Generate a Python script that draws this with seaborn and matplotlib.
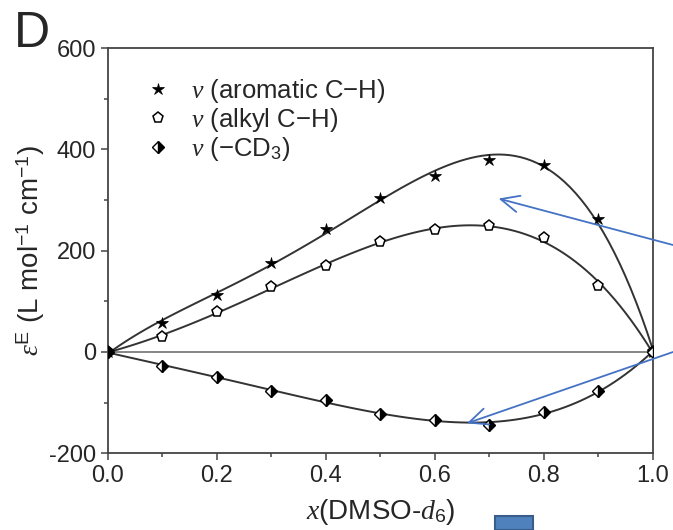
import matplotlib.pyplot as plt
import pandas as pd
import seaborn as sns
from matplotlib.patches import Rectangle
from matplotlib.ticker import MultipleLocator

# Data
x_dmso = [0.0, 0.1, 0.2, 0.3, 0.4, 0.5, 0.6, 0.7, 0.8, 0.9, 1.0]
eps_aromatic = [0, 57, 112, 176, 242, 305, 348, 380, 370, 263, 0]
eps_alkyl = [0, 30, 79, 128, 170, 218, 240, 248, 226, 131, 0]
eps_cd3 = [0, -28, -49, -77, -95, -123, -135, -145, -119, -77, 0]

labels = [r"$v$ (aromatic C$-$H)", r"$v$ (alkyl C$-$H)", r"$v$ ($-$CD$_3$)"]
arrow_targets = [(0.717, 303), (0.659, -141)]


def main():
    sns.set_theme(style="ticks")
    plt.rcParams["font.family"] = ["Liberation Sans", "DejaVu Sans"]
    plt.rcParams["mathtext.fontset"] = "custom"
    plt.rcParams["mathtext.rm"] = "Liberation Sans"
    plt.rcParams["mathtext.it"] = "Liberation Serif:italic"
    plt.rcParams["mathtext.bf"] = "Liberation Sans:bold"
    plt.rcParams["axes.unicode_minus"] = False

    df = pd.DataFrame(
        {"x": x_dmso, "arom": eps_aromatic, "alkyl": eps_alkyl, "cd3": eps_cd3}
    )

    fig = plt.figure(figsize=(6.73, 5.30), dpi=100)
    ax = fig.add_axes([0.160, 0.145, 0.810, 0.764])

    ax.axhline(0, color="#666666", lw=1.1, zorder=1)

    # fitted smooth curves
    for col in ["arom", "alkyl", "cd3"]:
        sns.regplot(
            data=df, x="x", y=col, order=4, ci=None, scatter=False, ax=ax,
            line_kws={"color": "#333333", "lw": 1.4, "zorder": 2},
        )

    # markers
    sns.lineplot(
        data=df, x="x", y="arom", ax=ax, linestyle="", marker="*",
        markersize=9, color="black", markeredgecolor="black",
        markeredgewidth=0.5, label=labels[0], zorder=3,
    )
    sns.lineplot(
        data=df, x="x", y="alkyl", ax=ax, linestyle="", marker="p",
        markersize=8, color="black", markerfacecolor="white",
        markeredgecolor="black", markeredgewidth=1.1, label=labels[1], zorder=3,
    )
    sns.lineplot(
        data=df, x="x", y="cd3", ax=ax, linestyle="", marker="D",
        markersize=6.5, color="black", fillstyle="right",
        markerfacecolor="black", markerfacecoloralt="white",
        markeredgecolor="black", markeredgewidth=1.0, label=labels[2], zorder=3,
    )

    ax.set_xlim(0, 1.0)
    ax.set_ylim(-200, 600)
    ax.xaxis.set_major_locator(MultipleLocator(0.2))
    ax.xaxis.set_minor_locator(MultipleLocator(0.1))
    ax.yaxis.set_major_locator(MultipleLocator(200))
    ax.yaxis.set_minor_locator(MultipleLocator(100))
    ax.set_xticklabels([f"{v:.1f}" for v in ax.get_xticks()])
    ax.tick_params(axis="both", which="major", direction="out", length=5,
                   width=1.1, labelsize=17, color="#444444", pad=3.5)
    ax.tick_params(axis="both", which="minor", direction="out", length=3,
                   width=1.1, color="#444444")
    for sp in ax.spines.values():
        sp.set_color("#444444")
        sp.set_linewidth(1.3)

    ax.set_xlabel(r"$x$(DMSO-$d_6$)", fontsize=20, labelpad=7)
    ax.set_ylabel(r"$\varepsilon^{\mathrm{E}}$ (L mol$^{-1}$ cm$^{-1}$)",
                  fontsize=20, labelpad=1)

    ax.legend(loc="upper left", frameon=False, fontsize=18.5,
              handletextpad=0.8, labelspacing=0.05, borderpad=0.4,
              borderaxespad=0, handlelength=1.0,
              bbox_to_anchor=(0.05, 0.955))

    # panel letter
    fig.text(0.02, 1 - 47 / 530, "D", fontsize=36, va="baseline")

    # blue callout arrows from the right edge
    tails = [(1.0, 1 - 245 / 530), (1.0, 1 - 352 / 530)]
    for (hx, hy), tail in zip(arrow_targets, tails):
        ax.annotate(
            "", xy=(hx, hy), xycoords="data", xytext=tail,
            textcoords="figure fraction", annotation_clip=False,
            arrowprops=dict(arrowstyle="->,head_length=1.1,head_width=0.5",
                            color="#4472C4", lw=1.3, shrinkA=0, shrinkB=0),
        )

    # small blue box below the axis
    fig.patches.append(Rectangle((495 / 673, 0), 38 / 673, 14 / 530,
                                 transform=fig.transFigure, facecolor="#4F81BD",
                                 edgecolor="#385D8A", lw=1.5))

    plt.savefig("out.png", dpi=100)
    plt.close()


if __name__ == "__main__":
    main()
